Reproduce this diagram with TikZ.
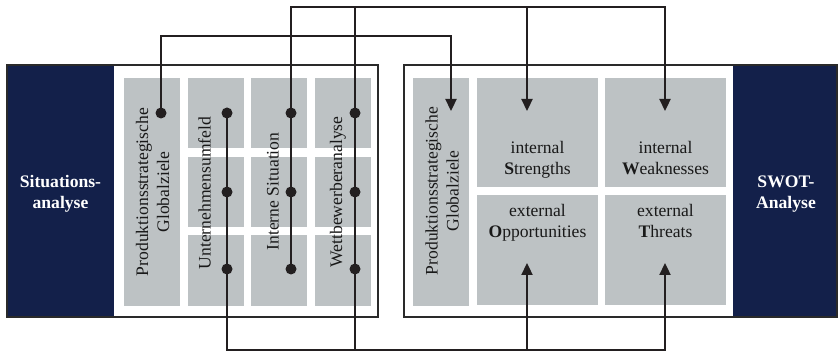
\documentclass[tikz,border=0pt]{standalone}
\usepackage{fontspec}
\setmainfont{Liberation Serif}
\usetikzlibrary{arrows.meta}
\definecolor{navy}{HTML}{13204A}
\definecolor{cellgray}{HTML}{BDC2C4}
\definecolor{frame}{HTML}{2A2A2A}
\definecolor{wire}{HTML}{231F20}
\begin{document}
\begin{tikzpicture}[x=1pt,y=-1pt,
  sidebar/.style={fill=navy,draw=none},
  cell/.style={fill=cellgray,draw=none,inner sep=0pt,outer sep=0pt},
  narrowcell/.style={cell,minimum width=56pt},
  widecell/.style={cell,minimum width=121pt},
  txt/.style={font=\fontsize{17.6}{21}\selectfont,align=center,inner sep=0pt,text=black!90},
  vtxt/.style={txt,rotate=90},
  hdr/.style={txt,font=\fontsize{17.6}{21}\selectfont\bfseries,text=white,text depth=3.8pt},
  quad/.style={txt,text depth=3.8pt},
  dot/.style={circle,fill=wire,inner sep=0pt,minimum size=11pt},
  wirestyle/.style={draw=wire,line width=2.3pt},
  feed/.style={wirestyle,-{Triangle[length=12pt,width=11pt]}},
]
\useasboundingbox (0,0) rectangle (838,352);

% the two panels with their dark side bars
\fill[white] (7,65) rectangle (378,317);
\fill[sidebar] (7,65) rectangle (114,317);
\draw[frame,line width=2.3pt] (7,65) rectangle (378,317);
\fill[white] (404,65) rectangle (837,317);
\fill[sidebar] (733,65) rectangle (837,317);
\draw[frame,line width=2.3pt] (404,65) rectangle (837,317);

\node[hdr] (sit) at (60.5,193.4) {Situations-\\analyse};
\node[hdr] (swot) at (786,194) {SWOT-\\Analyse};

% left panel: analysis fields
\node[narrowcell,minimum height=228pt] (pzL) at (152,192) {};
\foreach \n/\x in {u/216,i/279,w/343}{
  \node[narrowcell,minimum height=70pt] (\n1) at (\x,113) {};
  \node[narrowcell,minimum height=70pt] (\n2) at (\x,192) {};
  \node[narrowcell,minimum height=71pt] (\n3) at (\x,270.5) {};
}
\node[vtxt] (pzLt) at (152.5,192) {Produktionsstrategische\\Globalziele};
\node[vtxt,anchor=base] (ut) at (210.5,193) {Unternehmensumfeld};
\node[vtxt,anchor=base] (it) at (278.5,191.5) {Interne Situation};
\node[vtxt,anchor=base] (wt) at (342,192) {Wettbewerberanalyse};

% right panel: SWOT fields
\node[narrowcell,minimum height=228pt] (pzR) at (441,192) {};
\node[widecell,minimum height=109pt] (S) at (537.5,132.5) {};
\node[widecell,minimum height=109pt] (W) at (665.5,132.5) {};
\node[widecell,minimum height=110pt] (O) at (537.5,250) {};
\node[widecell,minimum height=110pt] (T) at (665.5,250) {};
\node[vtxt] (pzRt) at (442,191) {Produktionsstrategische\\Globalziele};
\node[quad] (St) at (537.5,160.2) {internal\\\textbf{S}trengths};
\node[quad] (Wt) at (665.5,160.2) {internal\\\textbf{W}eaknesses};
\node[quad] (Ot) at (537.5,222.3) {external\\\textbf{O}pportunities};
\node[quad] (Tt) at (665.5,222.3) {external\\\textbf{T}hreats};

% junction dots
\node[dot] (d0) at (161,113) {};
\foreach \n/\x in {u/227,i/291,w/355}{
  \node[dot] (\n d1) at (\x,113) {};
  \node[dot] (\n d2) at (\x,192) {};
  \node[dot] (\n d3) at (\x,269) {};
}

% routing points and arrow targets
\coordinate (lane) at (300,36);
\coordinate (top) at (478,7);
\coordinate (bus) at (446,350);
\coordinate (pzRin) at (451,111);
\coordinate (Sin) at (527,111);
\coordinate (Win) at (665,111);
\coordinate (Oin) at (527,263);
\coordinate (Tin) at (665,263);

% connectors
\draw[feed] (d0.center) |- (lane) -| (pzRin);
\draw[feed] (id3.center) -- (id1.center) |- (top) -| (Win);
\draw[feed] (top) -| (Sin);
\draw[wirestyle] (top -| wd1) -- (bus -| wd1);
\draw[feed] (ud1.center) |- (bus) -| (Tin);
\draw[feed] (bus -| Oin) -- (Oin);
\end{tikzpicture}
\end{document}
